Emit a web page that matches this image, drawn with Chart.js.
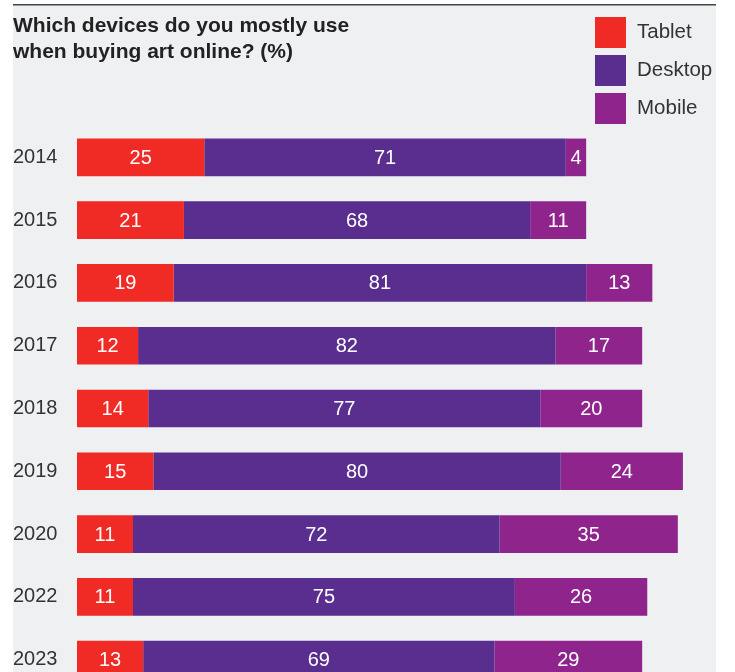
<!DOCTYPE html>
<html>
<head>
<meta charset="utf-8">
<script src="https://cdn.jsdelivr.net/npm/chart.js@4.4.1/dist/chart.umd.min.js"></script>
<style>
  html, body { margin: 0; padding: 0; background: #fff; overflow: hidden; }
  #wrap { position: relative; width: 735px; height: 703px; }
</style>
</head>
<body>
<div id="wrap"><canvas id="chart" width="735" height="703"></canvas></div>
<script>
const years = ['2014', '2015', '2016', '2017', '2018', '2019', '2020', '2022', '2023'];
const tablet = [25, 21, 19, 12, 14, 15, 11, 11, 13];
const desktop = [71, 68, 81, 82, 77, 80, 72, 75, 69];
const mobile = [4, 11, 13, 17, 20, 24, 35, 26, 29];

const colors = { tablet: '#f02a24', desktop: '#5a2e8f', mobile: '#8e248c' };
const FONT = '"Liberation Sans", Arial, Helvetica, sans-serif';

// grey panel + top rule, title and legend
const decor = {
  id: 'decor',
  beforeDraw(chart) {
    const ctx = chart.ctx;
    ctx.save();
    ctx.fillStyle = '#eff0f2';
    ctx.fillRect(13, 5, 703, chart.height);
    ctx.strokeStyle = '#444';
    ctx.lineWidth = 1.5;
    ctx.beginPath();
    ctx.moveTo(13, 4.75);
    ctx.lineTo(716, 4.75);
    ctx.stroke();
    ctx.restore();
  },
  afterDraw(chart) {
    const ctx = chart.ctx;
    ctx.save();
    ctx.fillStyle = '#222';
    ctx.font = 'bold 21px ' + FONT;
    ctx.textBaseline = 'middle';
    ctx.fillText('Which devices do you mostly use', 13, 26);
    ctx.fillText('when buying art online? (%)', 13, 52);

    ctx.font = '20.5px ' + FONT;
    chart.data.datasets.forEach((ds, i) => {
      const y = 17 + i * 38;
      ctx.fillStyle = ds.backgroundColor;
      ctx.fillRect(595, y, 31, 31);
      ctx.fillStyle = '#333';
      ctx.fillText(ds.label, 637, y + 15.5);
    });
    ctx.restore();
  }
};

// values inside segments
const segLabels = {
  id: 'segLabels',
  afterDatasetsDraw(chart) {
    const ctx = chart.ctx;
    ctx.save();
    ctx.fillStyle = '#fff';
    ctx.font = '20px ' + FONT;
    ctx.textAlign = 'center';
    ctx.textBaseline = 'middle';
    chart.data.datasets.forEach((ds, i) => {
      chart.getDatasetMeta(i).data.forEach((bar, j) => {
        const cx = (bar.x + bar.base) / 2;
        ctx.fillText(String(ds.data[j]), cx, bar.y + 1);
      });
    });
    ctx.restore();
  }
};

new Chart(document.getElementById('chart'), {
  type: 'bar',
  data: {
    labels: years,
    datasets: [
      { label: 'Tablet', data: tablet, backgroundColor: colors.tablet },
      { label: 'Desktop', data: desktop, backgroundColor: colors.desktop },
      { label: 'Mobile', data: mobile, backgroundColor: colors.mobile }
    ]
  },
  options: {
    indexAxis: 'y',
    responsive: false,
    animation: false,
    layout: { padding: { top: 126, bottom: 6, left: 13, right: 47 } },
    datasets: { bar: { categoryPercentage: 1, barPercentage: 0.6, borderWidth: 0 } },
    plugins: { legend: { display: false }, tooltip: { enabled: false } },
    scales: {
      x: { stacked: true, min: 0, max: 120, display: false },
      y: {
        stacked: true,
        grid: { display: false },
        border: { display: false },
        afterFit(scale) { scale.width = 64; },
        ticks: {
          crossAlign: 'far',
          color: '#333',
          padding: 0,
          font: { family: FONT, size: 20 }
        }
      }
    }
  },
  plugins: [decor, segLabels]
});
</script>
</body>
</html>
